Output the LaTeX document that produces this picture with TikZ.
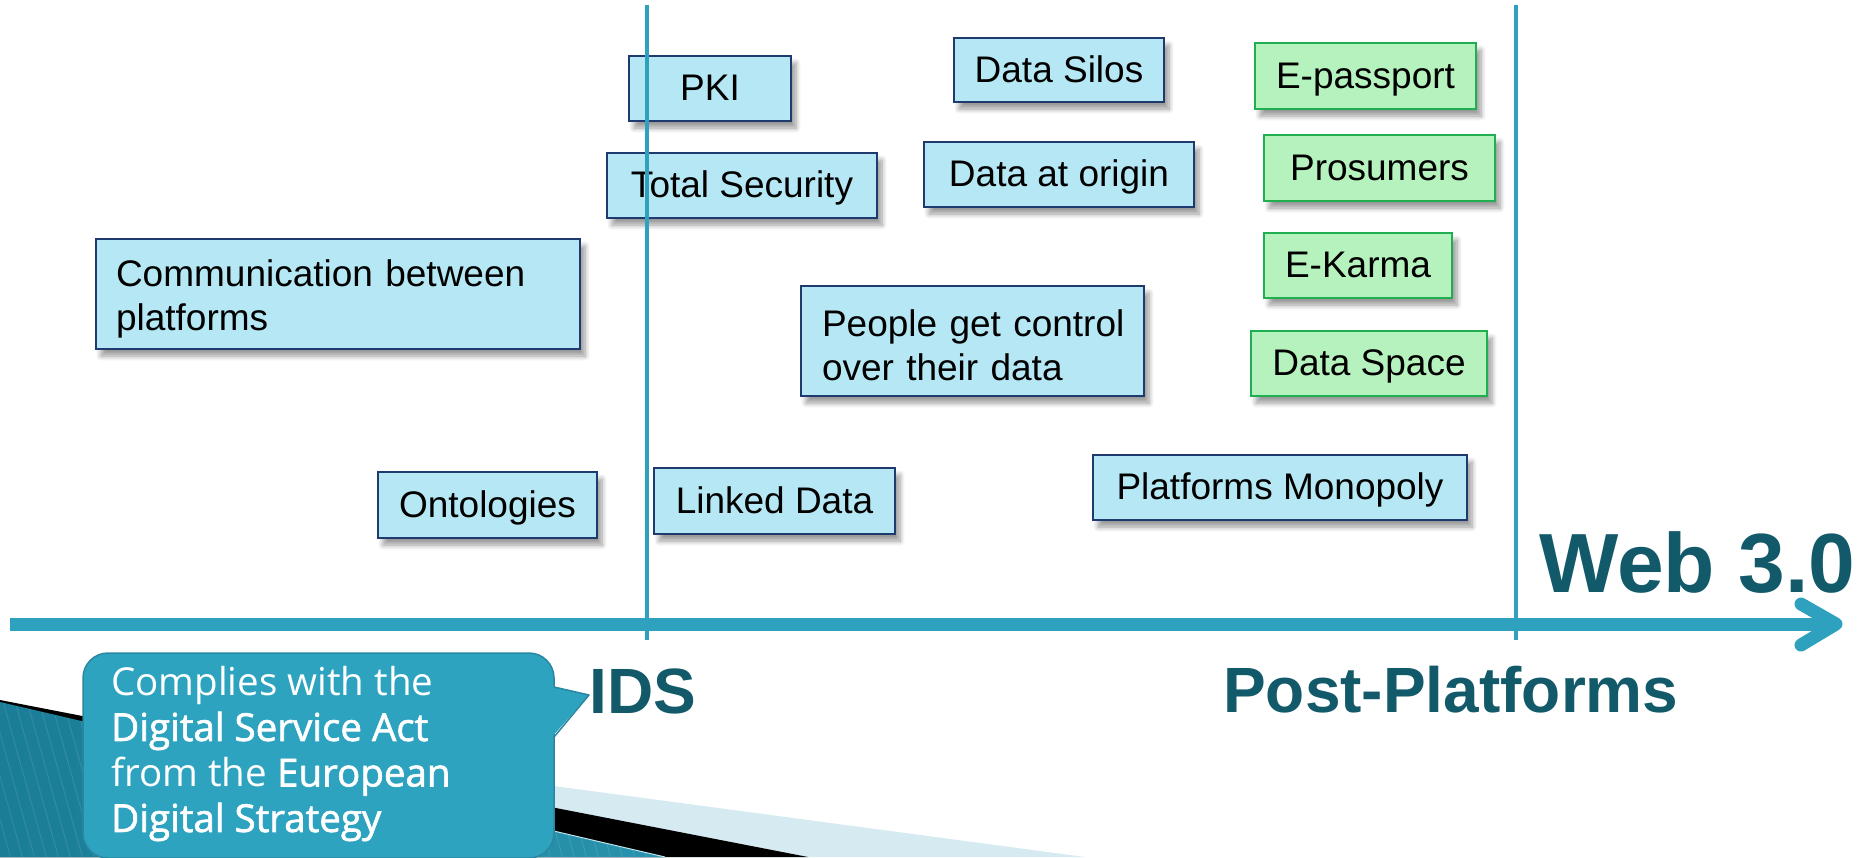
\documentclass[tikz,border=0pt]{standalone}
\usepackage{fontspec}
\setmainfont{Liberation Sans}
\newfontfamily\calloutreg{Open Sans}
\newfontfamily\calloutsemi{Open Sans}[FakeBold=1.6]
\usetikzlibrary{shadows,shadows.blur}
\definecolor{boxfill}{HTML}{B5E8F4}
\definecolor{boxline}{HTML}{1F3A6E}
\definecolor{greenfill}{HTML}{B6F2BD}
\definecolor{greenline}{HTML}{1FAF50}
\definecolor{axisblue}{HTML}{2EA1BF}
\definecolor{headteal}{HTML}{12596A}
\definecolor{calloutfill}{HTML}{2EA3BF}
\definecolor{calloutline}{HTML}{2A87A1}
\definecolor{paleband}{HTML}{D6EAF1}
\definecolor{tealdark}{HTML}{1B7D97}
\definecolor{teallight}{HTML}{2893AE}
\newcommand\bxfont{\fontsize{37}{44}\selectfont}
\newcommand\hdfont{\fontsize{64}{70}\selectfont\bfseries}
\newcommand\webfont{\fontsize{84}{90}\selectfont\bfseries}
\newcommand\cofont{\fontsize{38.5}{45.5}\selectfont\calloutreg}
\tikzset{
  boxbase/.style={draw=boxline, line width=2pt, fill=boxfill, inner sep=0pt, font=\bxfont,
    blur shadow={shadow xshift=5pt, shadow yshift=-7pt, shadow opacity=40, shadow blur steps=8, shadow blur radius=5pt}},
  onebox/.style={boxbase, text height=27pt, text depth=3pt},
  twobox/.style={boxbase, align=left},
  greenbox/.style={onebox, draw=greenline, fill=greenfill},
  vline/.style={draw=axisblue, line width=4.5pt},
  axisline/.style={draw=axisblue, line width=13pt},
  heading/.style={anchor=base west, inner sep=0pt, text=headteal}
}
\begin{document}
\begin{tikzpicture}[x=1pt,y=-1pt]
\useasboundingbox (0,0) rectangle (1859,857);
% bottom-left decoration
\fill[paleband] (0,712) -- (1085,857) -- (0,857) -- cycle;
\fill[black] (0,700) -- (808,857) -- (0,857) -- cycle;
\fill[left color=tealdark, right color=teallight] (0,702) -- (665,857) -- (0,857) -- cycle;
\begin{scope}
  \clip (0,702) -- (665,857) -- (0,857) -- cycle;
  \foreach \i in {-120,-108,...,700} \draw[white, opacity=0.10, line width=1pt] (\i,690) -- (\i+50,870);
\end{scope}
\draw[white!70!axisblue, line width=1pt] (83,721) -- (665,857);

% boxes
\node[onebox, minimum width=162pt, minimum height=65pt] (pki) at (710,88.5) {PKI};
\node[onebox, minimum width=210pt, minimum height=64pt] (silos) at (1059,70) {Data Silos};
\node[greenbox, minimum width=221pt, minimum height=66pt] (epass) at (1365.5,76) {E-passport};
\node[onebox, minimum width=270pt, minimum height=65pt] (totsec) at (742,185.5) {Total Security};
\node[onebox, minimum width=270pt, minimum height=65pt] (origin) at (1059,174.5) {Data at origin};
\node[greenbox, minimum width=231pt, minimum height=66pt] (prosum) at (1379.5,168) {Prosumers};
\node[greenbox, minimum width=188pt, minimum height=65pt] (karma) at (1358,265.5) {E-Karma};
\node[greenbox, minimum width=236pt, minimum height=65pt] (dspace) at (1369,363.5) {Data Space};
\node[twobox, minimum width=484pt, minimum height=110pt, text width=444pt] (comm) at (338,294) {\rule{0pt}{36pt}\mbox{Communication between}\\\mbox{platforms}};
\node[twobox, minimum width=343pt, minimum height=110pt, text width=301pt] (people) at (972.5,341) {\rule{0pt}{36pt}\mbox{People get control}\\\mbox{over their data}};
\node[onebox, minimum width=219pt, minimum height=66pt] (onto) at (487.5,505) {Ontologies};
\node[onebox, minimum width=241pt, minimum height=66pt] (linked) at (774.5,501) {Linked Data};
\node[onebox, minimum width=374pt, minimum height=65pt] (mono) at (1280,487.5) {Platforms Monopoly};

% vertical markers
\coordinate (idsTop) at (647,5);
\coordinate (idsBot) at (647,640);
\coordinate (postTop) at (1516,5);
\coordinate (postBot) at (1516,640);
\draw[vline] (idsTop) -- (idsBot);
\draw[vline] (postTop) -- (postBot);

% axis
\coordinate (axL) at (10,624);
\coordinate (chT) at (1836,624);
\coordinate (chA) at (1801,604);
\coordinate (chB) at (1801,645);
\draw[axisline] (axL) -- (chT);
\draw[axisline, line cap=round, line join=round] (chA) -- (chT) -- (chB);

% headings
\node[heading, font=\webfont] (web) at (1539,592) {Web 3.0};
\node[heading, font=\hdfont] (post) at (1223,712) {Post-Platforms};
\node[heading, font=\hdfont] (ids) at (589,713) {IDS};

% callout
\fill[calloutfill, draw=calloutline, line width=1.5pt, rounded corners=25pt] (83,653) rectangle (554,858);
\fill[calloutfill] (551,686) -- (589,695) -- (551,738) -- cycle;
\draw[calloutline, line width=1.5pt, line join=round] (554,687) -- (589,695) -- (554,737);
\node[anchor=north west, inner sep=0pt, align=left, text=white, font=\cofont] (note) at (111,666)
  {Complies with the\\{\calloutsemi Digital Service Act}\\from the {\calloutsemi European}\\{\calloutsemi Digital Strategy}};
\end{tikzpicture}
\end{document}
